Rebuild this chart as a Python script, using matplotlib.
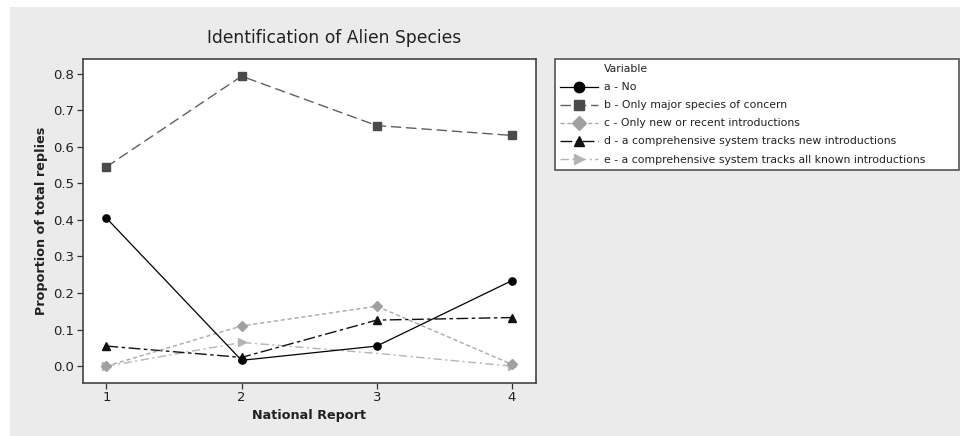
import matplotlib
matplotlib.use("Agg")
import matplotlib.pyplot as plt
from matplotlib.lines import Line2D
from matplotlib.patches import Rectangle

plt.rcParams['font.family'] = ['DejaVu Sans']
plt.rcParams['lines.scale_dashes'] = False

# ---- data ----
reports = [1, 2, 3, 4]
series_labels = [
    "a - No",
    "b - Only major species of concern",
    "c - Only new or recent introductions",
    "d - a comprehensive system tracks new introductions",
    "e - a comprehensive system tracks all known introductions",
]
a_no = [0.405, 0.016, 0.055, 0.234]
b_major = [0.545, 0.793, 0.658, 0.631]
c_new = [0.0, 0.110, 0.164, 0.005]
d_tracks_new = [0.055, 0.024, 0.126, 0.133]
e_tracks_all = [0.0, 0.065, 0.035, 0.0]
y_ticks = [0.0, 0.1, 0.2, 0.3, 0.4, 0.5, 0.6, 0.7, 0.8]

W, H = 960, 436
fig = plt.figure(figsize=(W / 100, H / 100), dpi=100)
fig.patch.set_facecolor('#ebebeb')
# white strips at top and left (scan border)
fig.patches.append(Rectangle((0, 1 - 7 / H), 1, 7 / H, transform=fig.transFigure,
                             facecolor='white', edgecolor='none', zorder=0))
fig.patches.append(Rectangle((0, 0), 10 / W, 1, transform=fig.transFigure,
                             facecolor='white', edgecolor='none', zorder=0))

ax = fig.add_axes([82.6 / W, 1 - 383 / H, (536 - 82.6) / W, (383 - 59) / H])
ax.set_facecolor('white')

styles = [
    dict(y=e_tracks_all, color='#b4b4b4', mfc='#b4b4b4', marker='>', ms=6,
         ls=(0, (6, 2.5, 1.5, 2.5)), lw=1.0, z=2, markevery=[0, 1, 3]),
    dict(y=d_tracks_new, color='#111111', mfc='#111111', marker='^', ms=5.5,
         ls=(0, (8.5, 2.5, 2.5, 2.5)), lw=1.0, z=3, markevery=None),
    dict(y=c_new, color='#a8a8a8', mfc='#a0a0a0', marker='D', ms=4.8,
         ls=(0, (3, 2)), lw=1.0, z=4, markevery=None),
    dict(y=b_major, color='#606060', mfc='#4a4a4a', marker='s', ms=5.2,
         ls=(0, (7.5, 3.5)), lw=1.0, z=5, markevery=None),
    dict(y=a_no, color='#000000', mfc='#000000', marker='o', ms=5.2,
         ls='-', lw=0.9, z=6, markevery=None),
]
labels_order = [series_labels[4], series_labels[3], series_labels[2],
                series_labels[1], series_labels[0]]
handles = {}
for st, lab in zip(styles, labels_order):
    ln, = ax.plot(reports, st['y'], color=st['color'], linestyle=st['ls'], lw=st['lw'],
                  marker=st['marker'], markersize=st['ms'], markerfacecolor=st['mfc'],
                  markeredgecolor=st['mfc'], zorder=st['z'], markevery=st['markevery'],
                  label=lab)
    handles[lab] = ln

ax.set_xlim(0.824, 4.178)
ax.set_ylim(-0.046, 0.84)
ax.set_xticks(reports)
ax.set_yticks(y_ticks)
ax.set_yticklabels([f"{v:.1f}" for v in y_ticks])
ax.tick_params(direction='out', length=4, width=0.9, colors='#333333',
               labelsize=9.5, labelcolor='#222222', pad=2)
for s in ax.spines.values():
    s.set_color('#444444')
    s.set_linewidth(1.2)

ax.set_xlabel("National Report", fontsize=9.2, fontweight='bold', color='#222222', labelpad=3)
ax.set_ylabel("Proportion of total replies", fontsize=9.2, fontweight='bold',
              color='#222222', labelpad=4)
fig.text(334.5 / W, 1 - 37.7 / H, "Identification of Alien Species", fontsize=12.3,
         color='#222222', ha='center', va='center')

# ---- legend ----
title_handle = Line2D([], [], color='none')
leg_handles = [title_handle] + [handles[l] for l in series_labels]
leg_labels = ["Variable"] + series_labels
leg = fig.legend(leg_handles, leg_labels, loc='upper left',
                 bbox_to_anchor=(555 / W, 1 - 172 / H, (959 - 555) / W, (172 - 59) / H),
                 mode='expand', borderaxespad=0, fontsize=7.8, frameon=True,
                 fancybox=False, edgecolor='#555555', facecolor='white', framealpha=1,
                 handlelength=3.5, handletextpad=0.55, labelspacing=0.74,
                 borderpad=0.5)
leg.get_frame().set_linewidth(1.2)
for h in leg.legend_handles:
    if h.get_marker() not in (None, 'None', ''):
        h.set_markersize(7.5)
for t in leg.get_texts():
    t.set_color('#222222')

fig.savefig("out.png", dpi=100, facecolor=fig.get_facecolor())
